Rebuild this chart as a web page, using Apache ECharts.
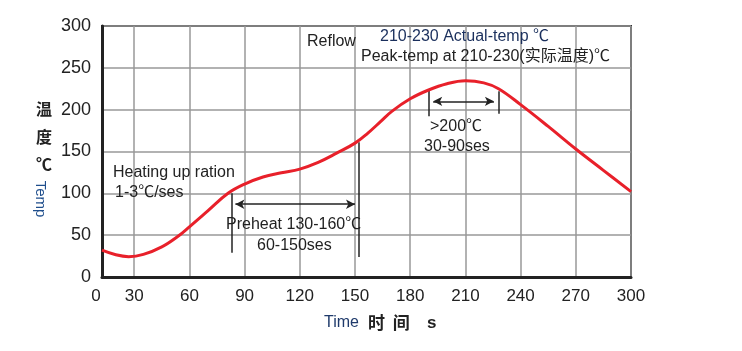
<!DOCTYPE html>
<html>
<head>
<meta charset="utf-8">
<script src="https://cdn.jsdelivr.net/npm/echarts@6/dist/echarts.min.js"></script>
<style>
    html, body { margin: 0; padding: 0; background: #fff; }
    #chart { width: 742px; height: 351px; }
</style>
</head>
<body>
<div id="chart"></div>
<script>
// 回流焊温度曲线
var timeS = [12.5, 20, 27, 35, 45, 54, 60, 70, 81, 90, 100, 110, 120, 130, 140, 150, 157, 164, 170, 180, 190, 200, 210, 220, 228, 240, 255, 270, 285, 300];
var tempC = [32, 26.5, 24.3, 27, 36, 49, 60, 79, 100, 111, 119.5, 124.5, 129, 137, 148, 160, 172, 186, 198, 213, 223.5, 231, 234.5, 232, 225, 206, 180, 153, 127.5, 102];

var xTicks = [12.5, 30, 60, 90, 120, 150, 180, 210, 240, 270, 300];

// 标注线 [x1, y1, x2, y2]
var preheatBars = [[83, 100, 83, 29], [152, 161, 152, 24]];
var preheatArrow = [85, 87, 150, 87];
var peakBars = [[190, 223.5, 190, 192], [228, 222, 228, 195]];
var peakArrow = [192.5, 210, 225.5, 210];

var txtFont = '"Liberation Sans", "Noto Sans CJK SC", sans-serif';

function seg(a, arrow) {
    return [
        { coord: [a[0], a[1]], symbol: arrow ? 'arrow' : 'none' },
        { coord: [a[2], a[3]], symbol: arrow ? 'arrow' : 'none' }
    ];
}
var marks = [];
preheatBars.forEach(function (b) { marks.push(seg(b, false)); });
peakBars.forEach(function (b) { marks.push(seg(b, false)); });
marks.push(seg(preheatArrow, true));
marks.push(seg(peakArrow, true));

function label(text, x, y, opt) {
    return {
        type: 'text', x: x, y: y, z: 100,
        style: Object.assign({
            text: text, font: '16px ' + txtFont, fill: '#222',
            textVerticalAlign: 'middle'
        }, opt || {})
    };
}

var chart = echarts.init(document.getElementById('chart'));
chart.setOption({
    animation: false,
    grid: {
        left: 102, right: 111, top: 26, bottom: 74,
        show: true, borderColor: '#333', borderWidth: 2
    },
    xAxis: {
        type: 'value', min: 12.5, max: 300,
        axisLine: { lineStyle: { color: '#222', width: 3 } },
        axisTick: { show: false, customValues: xTicks },
        splitLine: { show: true, lineStyle: { color: '#999', width: 1.5 } },
        axisLabel: {
            customValues: xTicks, margin: 11,
            fontSize: 17, color: '#222', fontFamily: 'Liberation Sans',
            formatter: function (v) { return v < 20 ? '{z|0}' : String(v); },
            rich: { z: { fontSize: 17, color: '#222', fontFamily: 'Liberation Sans', padding: [0, 12, 6, 0] } }
        }
    },
    yAxis: {
        type: 'value', min: 0, max: 300, interval: 50,
        axisLine: { show: true, lineStyle: { color: '#222', width: 3 } },
        axisTick: { show: false },
        splitLine: { show: true, lineStyle: { color: '#999', width: 1.5 } },
        axisLabel: { margin: 11, fontSize: 18, color: '#222', fontFamily: 'Liberation Sans' }
    },
    series: [{
        type: 'line',
        data: timeS.map(function (t, i) { return [t, tempC[i]]; }),
        smooth: 0.4,
        showSymbol: false,
        lineStyle: { color: '#e8202a', width: 3 },
        z: 5,
        markLine: {
            silent: true,
            symbolSize: [7, 9],
            label: { show: false },
            lineStyle: { color: '#222', width: 1.5, type: 'solid' },
            data: marks
        }
    }],
    graphic: [
        label('Heating up ration', 113, 173),
        label('1-3℃/ses', 115, 193),
        label('Reflow', 307, 42),
        label('210-230 Actual-temp ℃', 380, 37, { fill: '#1a2f5c' }),
        label('Peak-temp at 210-230(实际温度)℃', 361, 57, { font: '16px "Liberation Sans", "Noto Sans CJK SC"' }),
        label('>200℃', 430, 127),
        label('30-90ses', 424, 147),
        label('Preheat 130-160℃', 226, 225),
        label('60-150ses', 257, 246),
        label('温', 44, 109, { font: 'bold 16px "Noto Sans CJK SC"', textAlign: 'center' }),
        label('度', 44, 137, { font: 'bold 16px "Noto Sans CJK SC"', textAlign: 'center' }),
        label('℃', 44, 164, { font: 'bold 16px "Noto Sans CJK SC"', textAlign: 'center' }),
        {
            type: 'text', x: 40, y: 199, rotation: -Math.PI / 2, z: 100,
            style: { text: 'Temp', font: '15px ' + txtFont, fill: '#1f4e8c', textAlign: 'center', textVerticalAlign: 'middle' }
        },
        label('Time', 324, 323, { fill: '#1f3a6b', font: '16px ' + txtFont }),
        label('时  间', 368, 323, { font: 'bold 17px "Noto Sans CJK SC"' }),
        label('s', 427, 323, { font: 'bold 17px ' + txtFont })
    ]
});
</script>
</body>
</html>
